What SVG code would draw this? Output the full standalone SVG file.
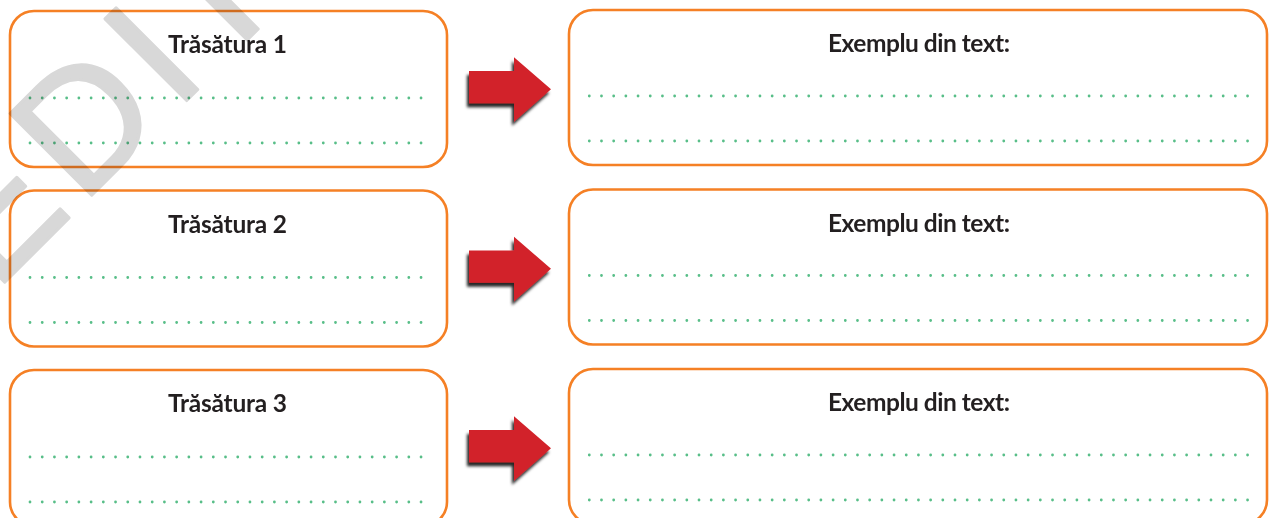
<svg xmlns="http://www.w3.org/2000/svg" width="1269" height="518" viewBox="0 0 1269 518">
<defs>
<style>
.box{fill:#fff;stroke:#f58025;stroke-width:2.6}
.lbl{font-family:Lato,"Liberation Sans",sans-serif;font-weight:700;font-size:24.5px;fill:#231f20;text-anchor:middle}
.dots{fill:none;stroke:#58be88;stroke-width:2.8;stroke-linecap:round}
.arrow{fill:#d2232a;filter:url(#sh)}
.wm{font-family:"Liberation Sans",Arial,sans-serif;font-size:168px;fill:#d8d8d8;stroke:#d8d8d8;stroke-width:3;stroke-linejoin:round;letter-spacing:11px}
</style>
<filter id="sh" x="-20%" y="-20%" width="140%" height="150%">
<feDropShadow dx="-2" dy="4" stdDeviation="1.4" flood-color="#000" flood-opacity="0.85"/>
</filter>
<g id="row">
<rect class="box" x="10" y="11" width="437" height="156" rx="24"/>
<path class="dots" d="M30 98H422M30 143H422" stroke-dasharray="0 12.22"/>
<rect class="box" x="569" y="10" width="698" height="155" rx="24"/>
<path class="dots" d="M589.3 96H1248M589.3 141H1248" stroke-dasharray="0 12.19"/>
</g>
</defs>

<g id="node-row1">
<use href="#row"/>
<text class="lbl" x="227.5" y="53" textLength="119">Trăsătura 1</text>
<text class="lbl" x="919" y="52" textLength="182">Exemplu din text:</text>
</g>
<g id="node-row2" transform="translate(0,179.5)">
<use href="#row"/>
<text class="lbl" x="227.5" y="53" textLength="119">Trăsătura 2</text>
<text class="lbl" x="919" y="52" textLength="182">Exemplu din text:</text>
</g>
<g id="node-row3" transform="translate(0,359)">
<use href="#row"/>
<text class="lbl" x="227.5" y="53" textLength="119">Trăsătura 3</text>
<text class="lbl" x="919" y="52" textLength="182">Exemplu din text:</text>
</g>

<g id="connectors">
<path class="arrow" d="M469 71H514V57.3L551 89.3L514 121.7V103.3H469Z"/>
<path class="arrow" transform="translate(0,179.5)" d="M469 71H514V57.3L551 89.3L514 121.7V103.3H469Z"/>
<path class="arrow" transform="translate(0,359)" d="M469 71H514V57.3L551 89.3L514 121.7V103.3H469Z"/>
</g>

<g id="watermark" style="mix-blend-mode:multiply">
<text class="wm" transform="rotate(-45)" x="-210" y="203">EDIT</text>
</g>
</svg>
